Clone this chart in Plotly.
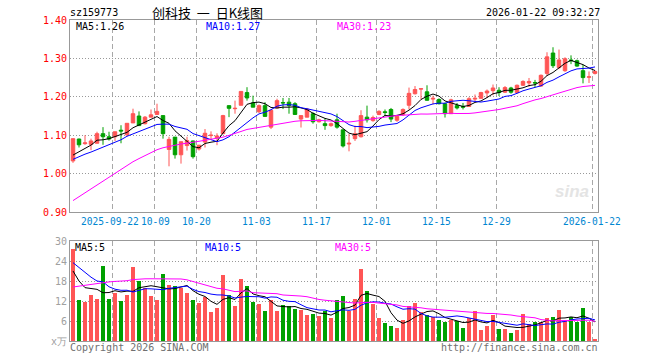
import plotly.graph_objects as go
import pandas as pd

# ---------------- data ----------------
holidays = ["2025-10-01", "2025-10-02", "2025-10-03", "2025-10-06", "2025-10-07",
            "2025-10-08", "2026-01-01", "2026-01-02"]
dates = [d.strftime("%Y-%m-%d") for d in pd.bdate_range("2025-09-11", "2026-01-22")
         if d.strftime("%Y-%m-%d") not in holidays]

opens = [1.033, 1.090, 1.078, 1.076, 1.079, 1.104, 1.096, 1.096, 1.113, 1.101,
         1.132, 1.150, 1.130, 1.147, 1.154, 1.151, 1.063, 1.095, 1.049, 1.073,
         1.085, 1.064, 1.082, 1.099, 1.093, 1.104, 1.177, 1.169, 1.178, 1.211,
         1.184, 1.161, 1.177, 1.121, 1.171, 1.185, 1.186, 1.182, 1.142, 1.147,
         1.156, 1.135, 1.130, 1.125, 1.140, 1.114, 1.077, 1.091, 1.096, 1.147,
         1.138, 1.154, 1.161, 1.167, 1.139, 1.154, 1.178, 1.208, 1.220, 1.213,
         1.194, 1.193, 1.182, 1.156, 1.177, 1.175, 1.175, 1.194, 1.196, 1.210,
         1.216, 1.217, 1.212, 1.223, 1.211, 1.230, 1.236, 1.237, 1.228, 1.261,
         1.314, 1.276, 1.268, 1.296, 1.294, 1.268, 1.251, 1.261]
highs = [1.091, 1.091, 1.100, 1.091, 1.109, 1.121, 1.109, 1.109, 1.126, 1.131,
         1.169, 1.162, 1.150, 1.167, 1.182, 1.151, 1.096, 1.095, 1.083, 1.096,
         1.086, 1.074, 1.116, 1.110, 1.105, 1.153, 1.177, 1.190, 1.214, 1.225,
         1.203, 1.180, 1.186, 1.165, 1.195, 1.197, 1.197, 1.186, 1.151, 1.171,
         1.160, 1.143, 1.144, 1.133, 1.156, 1.114, 1.103, 1.125, 1.165, 1.177,
         1.151, 1.165, 1.167, 1.171, 1.153, 1.170, 1.224, 1.228, 1.221, 1.230,
         1.203, 1.196, 1.185, 1.195, 1.184, 1.184, 1.199, 1.206, 1.213, 1.219,
         1.232, 1.225, 1.228, 1.226, 1.232, 1.243, 1.249, 1.244, 1.258, 1.316,
         1.329, 1.323, 1.303, 1.308, 1.297, 1.283, 1.266, 1.269]
lows = [1.028, 1.068, 1.075, 1.061, 1.079, 1.075, 1.086, 1.085, 1.079, 1.097,
        1.132, 1.125, 1.128, 1.147, 1.154, 1.091, 1.019, 1.039, 1.026, 1.060,
        1.039, 1.060, 1.068, 1.088, 1.074, 1.104, 1.147, 1.156, 1.178, 1.190,
        1.173, 1.158, 1.149, 1.116, 1.171, 1.168, 1.156, 1.154, 1.120, 1.147,
        1.130, 1.133, 1.114, 1.122, 1.117, 1.068, 1.058, 1.085, 1.094, 1.133,
        1.135, 1.152, 1.149, 1.134, 1.135, 1.150, 1.167, 1.206, 1.193, 1.190,
        1.180, 1.180, 1.146, 1.156, 1.167, 1.167, 1.174, 1.189, 1.196, 1.197,
        1.204, 1.202, 1.210, 1.208, 1.209, 1.228, 1.226, 1.225, 1.226, 1.254,
        1.275, 1.272, 1.265, 1.285, 1.278, 1.235, 1.236, 1.258]
closes = [1.091, 1.075, 1.080, 1.085, 1.104, 1.096, 1.090, 1.109, 1.111, 1.131,
          1.156, 1.125, 1.147, 1.153, 1.162, 1.104, 1.089, 1.049, 1.083, 1.086,
          1.044, 1.074, 1.105, 1.100, 1.098, 1.151, 1.170, 1.170, 1.214, 1.197,
          1.173, 1.177, 1.149, 1.165, 1.190, 1.184, 1.177, 1.154, 1.151, 1.168,
          1.135, 1.140, 1.125, 1.130, 1.121, 1.072, 1.079, 1.104, 1.151, 1.140,
          1.146, 1.162, 1.159, 1.142, 1.149, 1.167, 1.209, 1.219, 1.221, 1.191,
          1.196, 1.182, 1.156, 1.192, 1.171, 1.173, 1.195, 1.196, 1.211, 1.215,
          1.223, 1.211, 1.224, 1.212, 1.230, 1.240, 1.240, 1.236, 1.256, 1.304,
          1.281, 1.296, 1.299, 1.294, 1.280, 1.250, 1.252, 1.266]
volumes = [27.5, 12.2, 11.6, 13.7, 12.5, 22.4, 12.5, 14.3, 11.9, 13.7,
           22.1, 17.9, 15.8, 13.4, 12.2, 20.0, 16.7, 16.4, 15.9, 14.3,
           12.2, 11.3, 13.1, 8.6, 9.8, 19.7, 13.7, 10.4, 18.5, 16.4,
           11.6, 11.0, 8.9, 12.2, 8.9, 10.7, 10.4, 9.5, 9.2, 7.7,
           8.0, 7.4, 8.9, 6.8, 12.2, 13.4, 8.9, 12.5, 21.5, 14.9,
           11.0, 6.8, 5.3, 4.4, 3.8, 6.2, 10.4, 11.3, 8.6, 7.7,
           7.1, 6.2, 5.6, 6.2, 5.9, 3.8, 6.8, 8.9, 3.2, 4.4,
           7.7, 3.5, 3.5, 2.3, 3.2, 8.0, 5.0, 5.6, 5.6, 6.8,
           7.1, 9.2, 5.9, 7.1, 5.6, 9.8, 5.6, 0.5]

# sessions before the visible window (estimated from where the MA lines start)
prior_closes = [0.77, 0.77, 0.78, 0.78, 0.79, 0.79, 0.80,
                0.82, 0.84, 0.86, 0.88, 0.90, 0.93,
                0.94, 0.95, 0.96, 0.98, 0.99, 0.99, 1.00,
                1.00, 1.02, 1.03, 1.04, 1.04,
                1.03, 1.04, 1.04, 1.04]
prior_volumes = [4, 4, 5, 5, 12, 9, 10, 9, 10, 12,
                 13, 14, 13, 12, 16, 18, 19, 18, 22, 26,
                 27, 28, 26, 24, 25, 27.2, 21.6, 15.2, 13.5]

tick_dates = ["2025-09-22", "2025-10-09", "2025-10-20", "2025-11-03", "2025-11-17",
              "2025-12-01", "2025-12-15", "2025-12-29", "2026-01-22"]
tick_labels = ["2025-09-22", "10-09", "10-20", "11-03", "11-17", "12-01", "12-15",
               "12-29", "2026-01-22"]
price_ticks = [0.90, 1.00, 1.10, 1.20, 1.30, 1.40]
vol_ticks = [0, 6, 12, 18, 24, 30]
vol_tick_labels = ["x万", "6", "12", "18", "24", "30"]

# ---------------- derived ----------------
n = len(closes)
idx = list(range(n))
cs = pd.Series(prior_closes + closes)
vs = pd.Series(prior_volumes + volumes)
k = len(prior_closes)
ma5 = cs.rolling(5).mean().iloc[k:].tolist()
ma10 = cs.rolling(10).mean().iloc[k:].tolist()
ma30 = cs.rolling(30).mean().iloc[k:].tolist()
vma5 = vs.rolling(5).mean().iloc[k:].tolist()
vma10 = vs.rolling(10).mean().iloc[k:].tolist()
vma30 = vs.rolling(30).mean().iloc[k:].tolist()
tick_pos = [dates.index(d) - 0.5 for d in tick_dates]

RED = "#FF5555"
GREEN = "#00A000"
bar_colors = [RED if c >= o else GREEN for o, c in zip(opens, closes)]

W, H = 660, 360
def px(x):
    return x / W
def py(y):
    return 1 - y / H

MONO = "DejaVu Sans Mono"

fig = go.Figure()
fig.add_trace(go.Candlestick(
    x=idx, open=opens, high=highs, low=lows, close=closes,
    increasing=dict(line=dict(color=RED, width=1), fillcolor=RED),
    decreasing=dict(line=dict(color=GREEN, width=1), fillcolor=GREEN),
    whiskerwidth=0, xaxis="x", yaxis="y", hoverinfo="skip", showlegend=False))
for vals, col in [(ma5, "black"), (ma10, "#0000FF"), (ma30, "#FF00FF")]:
    fig.add_trace(go.Scatter(x=idx, y=vals, mode="lines", line=dict(color=col, width=1),
                             xaxis="x", yaxis="y", hoverinfo="skip", showlegend=False))
fig.add_trace(go.Bar(x=idx, y=volumes, marker=dict(color=bar_colors, line=dict(width=0)),
                     width=0.8, xaxis="x2", yaxis="y2", hoverinfo="skip", showlegend=False))
for vals, col in [(vma5, "black"), (vma10, "#0000FF"), (vma30, "#FF00FF")]:
    fig.add_trace(go.Scatter(x=idx, y=vals, mode="lines", line=dict(color=col, width=1),
                             xaxis="x2", yaxis="y2", hoverinfo="skip", showlegend=False))

xdom = [px(70), px(598)]
common_x = dict(range=[-0.5, n - 0.5], tickmode="array", tickvals=tick_pos,
                showgrid=True, gridcolor="#A8A8A8", griddash="5px,3px", gridwidth=1,
                zeroline=False, showline=True, mirror=True, linecolor="#999999",
                linewidth=1, ticks="", fixedrange=True, automargin=False,
                showticklabels=False)
common_y = dict(tickmode="array", showgrid=True, gridcolor="#999999", griddash="1px,2px",
                zeroline=False, showline=True, mirror=True, linecolor="#999999",
                ticks="", fixedrange=True, automargin=False)
fig.update_layout(
    width=W, height=H, margin=dict(l=0, r=0, t=0, b=0, autoexpand=False),
    paper_bgcolor="white", plot_bgcolor="white", boxgap=0.17,
    xaxis=dict(domain=xdom, anchor="y", rangeslider=dict(visible=False), **common_x),
    xaxis2=dict(domain=xdom, anchor="y2", matches="x", **common_x),
    yaxis=dict(domain=[py(212), py(20)], range=[0.90, 1.40],
               tickvals=price_ticks, ticktext=[f"{v:.2f}" for v in price_ticks],
               tickfont=dict(family=MONO, size=10, color="red"), **common_y),
    yaxis2=dict(domain=[py(341), py(241)], range=[0, 30],
                tickvals=vol_ticks, ticktext=vol_tick_labels,
                tickfont=dict(family=MONO, size=10, color="#A0A0A0"), **common_y),
    bargap=0,
)

# date labels under the price panel, centred on the grid lines
shifts = [-2, 1, 0, 0, 0, 0, 0, 0, 0]
for pos, lab, sh in zip(tick_pos, tick_labels, shifts):
    fig.add_annotation(x=pos, y=py(221), xref="x", yref="paper", text=lab,
                       showarrow=False, xanchor="center", yanchor="middle", xshift=sh,
                       font=dict(family=MONO, size=9.6, color="#0086D1"), borderpad=0)

def txt(x, y, s, color="black", anchor="left", size=10, family=MONO):
    fig.add_annotation(x=px(x), y=py(y), xref="paper", yref="paper", text=s,
                       showarrow=False, xanchor=anchor, yanchor="middle",
                       font=dict(family=family, size=size, color=color), borderpad=0)

txt(69, 13, "sz159773")
txt(208, 13, "创科技&nbsp;&nbsp;一&nbsp;&nbsp;日K线图", anchor="center", size=13,
    family="Noto Sans CJK SC")
txt(601, 13, "2026-01-22 09:32:27", anchor="right")
txt(75, 27, "MA5:1.26")
txt(205, 27, "MA10:1.27", color="#0000FF")
txt(336, 27, "MA30:1.23", color="#FF00FF")
txt(74, 247, "MA5:5")
txt(204, 247, "MA10:5", color="#0000FF")
txt(334, 247, "MA30:5", color="#FF00FF")
txt(69, 347, "Copyright 2026 SINA.COM", color="#707070")
txt(599, 347, "http://finance.sina.com.cn", color="#707070", anchor="right")
txt(572, 191, "<b><i>sina</i></b>", color="#E4E4E4", anchor="center", size=17,
    family="Liberation Sans")

fig.write_html("out.html", config={"displayModeBar": False},
               post_script="document.body.style.margin='0';")
